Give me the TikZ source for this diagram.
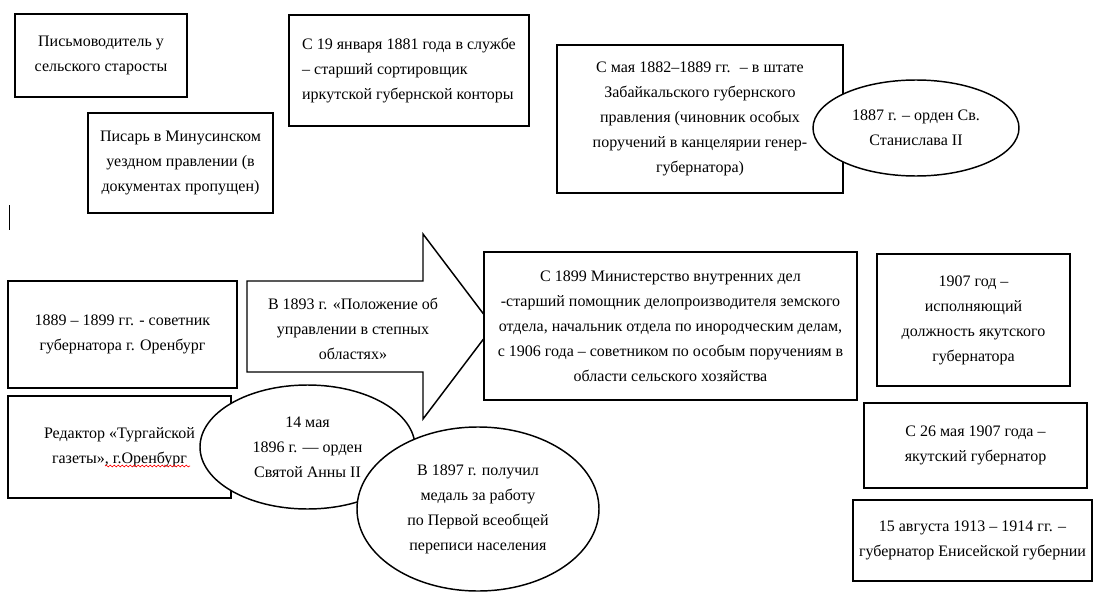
\documentclass[tikz,border=0pt]{standalone}
\usepackage{fontspec}
\setmainfont{Liberation Serif}
\usetikzlibrary{shapes,shapes.geometric,calc,positioning,decorations.pathmorphing}
\tikzset{box/.style={draw, rectangle, line width=1.1pt, fill=white, inner sep=2pt, align=center},
oval/.style={draw, ellipse, line width=1.1pt, fill=white, inner sep=0pt, align=center}}

\begin{document}
\begin{tikzpicture}[x=0.75pt, y=-0.75pt, font=\fontsize{12}{18.75}\selectfont]
\useasboundingbox (0,0) rectangle (1093,592);
\node[box, minimum width=129pt, minimum height=62.25pt] (B1) at (101,55.5) {Письмоводитель у\\сельского старосты};
\node[box, minimum width=138.75pt, minimum height=75pt] (B2) at (180.5,163) {Писарь в Минусинском\\уездном правлении (в\\документах пропущен)};
\node[box, align=left, minimum width=180pt, minimum height=83.25pt] (B3) at (409,70.5) {С 19 января 1881 года в службе\\– старший сортировщик\\иркутской губернской конторы};
\node[box, minimum width=214.5pt, minimum height=111pt] (B4) at (700,119) {С мая 1882–1889 гг. \ – в штате\\Забайкальского губернского\\правления (чиновник особых\\поручений в канцелярии генер-\\губернатора)};
\node[oval, minimum width=154.5pt, minimum height=72pt] (E1) at (916,128) {1887 г. – орден Св.\\Станислава II};
\draw[line width=0.6pt] (9,205) -- (9,230);
\node[box, minimum width=171.75pt, minimum height=80.25pt] (B5) at (122.5,334.5) {1889 – 1899 гг. - советник\\губернатора г. Оренбург};
\draw[line width=1.1pt, fill=white] (247,281) -- (423,281) -- (423,234) -- (493,326.5) -- (423,419) -- (423,372) -- (247,372) -- cycle;
\node[align=center] (A1) at (353,329) {В 1893 г. «Положение об\\управлении в степных\\областях»};
\node[box, minimum width=279.75pt, minimum height=111pt] (B6) at (670.5,326) {С 1899 Министерство внутренних дел\\-старший помощник делопроизводителя земского\\отдела, начальник отдела по инородческим делам,\\с 1906 года – советником по особым поручениям в\\области сельского хозяйства};
\node[box, minimum width=144.75pt, minimum height=99pt] (B7) at (973.5,320) {1907 год –\\исполняющий\\должность якутского\\губернатора};
\node[box, minimum width=167.25pt, minimum height=63.75pt] (B8) at (975.5,445.5) {С 26 мая 1907 года –\\якутский губернатор};
\node[box, minimum width=179.25pt, minimum height=60.75pt] (B9) at (972.5,540.5) {15 августа 1913 – 1914 гг. –\\губернатор Енисейской губернии};
\node[box, minimum width=167.25pt, minimum height=76.5pt] (B10) at (119.5,447) {Редактор «Тургайской\\газеты», г.Оренбург};
\draw[red, line width=0.5pt, decorate, decoration={snake, amplitude=0.7pt, segment length=3pt}] (105,466) -- (190,466);
\node[oval, minimum width=161.25pt, minimum height=93pt] (E2) at (307.5,447) {14 мая\\1896 г. — орден\\Святой Анны II};
\node[oval, minimum width=181.5pt, minimum height=123pt] (E3) at (478,509) {В 1897 г. получил\\медаль за работу\\по Первой всеобщей\\переписи населения};
\end{tikzpicture}
\end{document}
